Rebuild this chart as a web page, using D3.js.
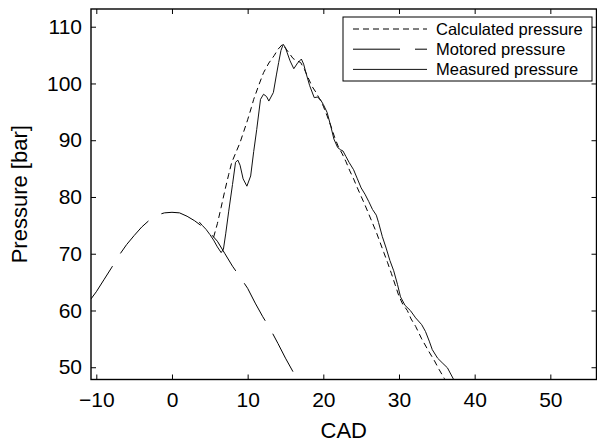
<!DOCTYPE html>
<html>
<head>
<meta charset="utf-8">
<script src="https://cdn.jsdelivr.net/npm/d3@7"></script>
<style>
  body { margin: 0; background: #fff; }
  text { font-family: "Liberation Sans", Arial, sans-serif; fill: #000; }
</style>
</head>
<body>
<div id="chart"></div>
<script>
// Tick labels
const xTicks = [-10, 0, 10, 20, 30, 40, 50];
const yTicks = [50, 60, 70, 80, 90, 100, 110];

// Motored pressure (CAD, bar)
const motoredCad = [-11, -10, -9, -8, -7, -6, -5, -4, -3, -2, -1, 0, 1, 2, 3, 4, 5, 6, 7, 8, 9, 10, 11, 12, 13, 14, 15, 16, 17];
const motoredP = [61.5, 63.3, 65.4, 67.5, 69.7, 71.6, 73.2, 74.7, 75.9, 76.8, 77.2, 77.3, 77.2, 76.6, 75.8, 74.8, 73.7, 72.2, 70.0, 67.8, 65.9, 63.9, 61.3, 58.9, 56.7, 54.2, 51.6, 49.2, 46.5];

// Measured pressure
const measuredCad = [3.6, 4, 4.5, 5, 5.5, 6, 6.5, 6.8, 7.1, 7.5, 8, 8.4, 8.7, 9.0, 9.4, 9.9, 10.4, 10.8, 11.2, 11.7, 12.1, 12.5, 12.8, 13.4, 13.8, 14.1, 14.4, 14.7, 15.0, 15.2, 15.6, 16.1, 16.6, 17.1, 17.4, 17.7, 18.2, 18.8, 19.2, 19.6, 20.0, 20.5, 21.0, 21.4, 21.9, 22.3, 22.6, 23.0, 23.4, 24, 24.5, 25, 25.5, 26, 26.5, 27, 27.3, 27.8, 28.3, 28.8, 29.3, 29.8, 30.2, 30.8, 31.5, 32.2, 33, 33.5, 34, 34.4, 35.1, 35.7, 36.4, 37.2, 37.5];
const measuredP = [75.6, 75.0, 74.3, 73.4, 72.4, 71.2, 70.2, 70.8, 73.5, 77.5, 82.2, 86.1, 86.5, 85.6, 83.2, 81.9, 83.7, 88.0, 91.9, 97.2, 98.1, 97.7, 96.9, 98.4, 101.5, 103.7, 105.8, 106.9, 106.3, 105.5, 104.0, 102.6, 103.6, 104.3, 103.4, 101.9, 99.6, 97.5, 97.6, 97.2, 96.3, 94.9, 92.4, 90.2, 88.7, 88.3, 88.1, 87.1, 86.1, 84.8, 83.2, 81.6, 80.5, 79.2, 77.8, 76.8, 75.5, 73.0, 71.0, 68.8, 67.0, 64.6, 62.4, 60.9, 60.0, 58.7, 57.5, 56.3, 54.6, 53.1, 51.6, 50.8, 49.9, 47.9, 47.3];

// Calculated pressure
const calcCad = [5.5, 6, 6.5, 7, 7.5, 7.9, 8.5, 9, 9.5, 10, 10.5, 10.8, 11.5, 12.1, 12.8, 13.5, 14, 14.6, 15, 15.4, 16, 16.5, 17, 17.5, 18, 18.5, 19, 19.5, 20, 20.5, 21, 21.5, 22, 22.5, 23, 23.5, 24, 24.5, 25, 25.5, 26, 26.5, 27, 27.5, 28, 28.5, 29, 29.5, 30, 30.5, 31.1, 31.6, 32.2, 33, 33.8, 34.7, 35.3, 36, 36.3];
const calcP = [72.9, 75.3, 78.2, 81.2, 84.0, 86.1, 88.0, 89.6, 91.6, 93.6, 95.8, 97.2, 99.8, 101.9, 103.6, 104.9, 106.0, 106.9, 106.2, 105.5, 104.4, 104.0, 103.7, 102.5, 101.0, 99.5, 98.5, 97.3, 96.0, 94.3, 92.5, 90.5, 88.8, 87.6, 86.2, 84.6, 83.2, 81.6, 80.1, 78.6, 77.0, 75.4, 73.8, 72.0, 70.2, 68.4, 66.5, 64.5, 62.5, 61.1, 60.0, 58.5, 57.2, 55.0, 53.1, 51.1, 49.6, 48.0, 47.3];

const width = 597;
const height = 443;
const margin = { left: 91, right: 0.5, top: 9, bottom: 63.5 };

const svg = d3.select("#chart")
    .append("svg")
    .attr("width", width)
    .attr("height", height);

const x = d3.scaleLinear()
    .domain([-10.7, 56.1])
    .range([margin.left, width - margin.right]);

const y = d3.scaleLinear()
    .domain([47.84, 113.12])
    .range([height - margin.bottom, margin.top]);

const plotW = width - margin.right - margin.left;
const plotH = height - margin.bottom - margin.top;

svg.append("clipPath")
    .attr("id", "plot-clip")
    .append("rect")
    .attr("x", margin.left)
    .attr("y", margin.top)
    .attr("width", plotW)
    .attr("height", plotH);

// Axes with inward ticks on all four sides
const tickLen = 5;
svg.append("g")
    .attr("transform", `translate(0,${height - margin.bottom})`)
    .call(d3.axisBottom(x).tickValues(xTicks).tickSize(-tickLen).tickPadding(tickLen + 8).tickFormat(d3.format("d")));
svg.append("g")
    .attr("transform", `translate(0,${margin.top})`)
    .call(d3.axisTop(x).tickValues(xTicks).tickSize(-tickLen).tickFormat(""));
svg.append("g")
    .attr("transform", `translate(${margin.left},0)`)
    .call(d3.axisLeft(y).tickValues(yTicks).tickSize(-tickLen).tickPadding(tickLen + 4).tickFormat(d3.format("d")));
svg.append("g")
    .attr("transform", `translate(${width - margin.right},0)`)
    .call(d3.axisRight(y).tickValues(yTicks).tickSize(-tickLen).tickFormat(""));

svg.selectAll(".domain").remove();
svg.selectAll(".tick line").attr("stroke", "#000").attr("stroke-width", 1);
svg.selectAll(".tick text")
    .style("font-size", "21px")
    .style("font-family", "'Liberation Sans', Arial, sans-serif")
    .attr("fill", "#000");

// Frame
svg.append("rect")
    .attr("x", margin.left)
    .attr("y", margin.top)
    .attr("width", plotW)
    .attr("height", plotH)
    .attr("fill", "none")
    .attr("stroke", "#000")
    .attr("stroke-width", 1.4);

// Curves
const line = d3.line()
    .x(d => x(d[0]))
    .y(d => y(d[1]));

const plot = svg.append("g").attr("clip-path", "url(#plot-clip)");

const series = [
    { name: "Calculated pressure", cad: calcCad, p: calcP, dash: "6,4", color: "#000" },
    { name: "Motored pressure", cad: motoredCad, p: motoredP, dash: "43,15", color: "#000" },
    { name: "Measured pressure", cad: measuredCad, p: measuredP, dash: null, color: "#111" }
];

series.forEach(s => {
    plot.append("path")
        .datum(s.cad.map((c, i) => [c, s.p[i]]))
        .attr("d", line)
        .attr("fill", "none")
        .attr("stroke", s.color)
        .attr("stroke-width", 1)
        .attr("stroke-dasharray", s.dash);
});

// Axis labels
svg.append("text")
    .attr("x", margin.left + plotW / 2)
    .attr("y", 438)
    .attr("text-anchor", "middle")
    .style("font-size", "22px")
    .text("CAD");

svg.append("text")
    .attr("transform", `translate(27,${margin.top + plotH / 2}) rotate(-90)`)
    .attr("text-anchor", "middle")
    .style("font-size", "22px")
    .text("Pressure [bar]");

// Legend
const legend = svg.append("g");
legend.append("rect")
    .attr("x", 343)
    .attr("y", 17)
    .attr("width", 249)
    .attr("height", 64)
    .attr("fill", "#fff")
    .attr("stroke", "#000")
    .attr("stroke-width", 1);

series.forEach((s, i) => {
    const ly = 29 + i * 20.2;
    legend.append("line")
        .attr("x1", 353)
        .attr("x2", 427)
        .attr("y1", ly)
        .attr("y2", ly)
        .attr("stroke", s.color)
        .attr("stroke-width", 1)
        .attr("stroke-dasharray", s.dash === "43,15" ? "47,15" : s.dash);
    legend.append("text")
        .attr("x", 436)
        .attr("y", ly)
        .attr("dy", "0.36em")
        .style("font-size", "16.5px")
        .text(s.name);
});
</script>
</body>
</html>
